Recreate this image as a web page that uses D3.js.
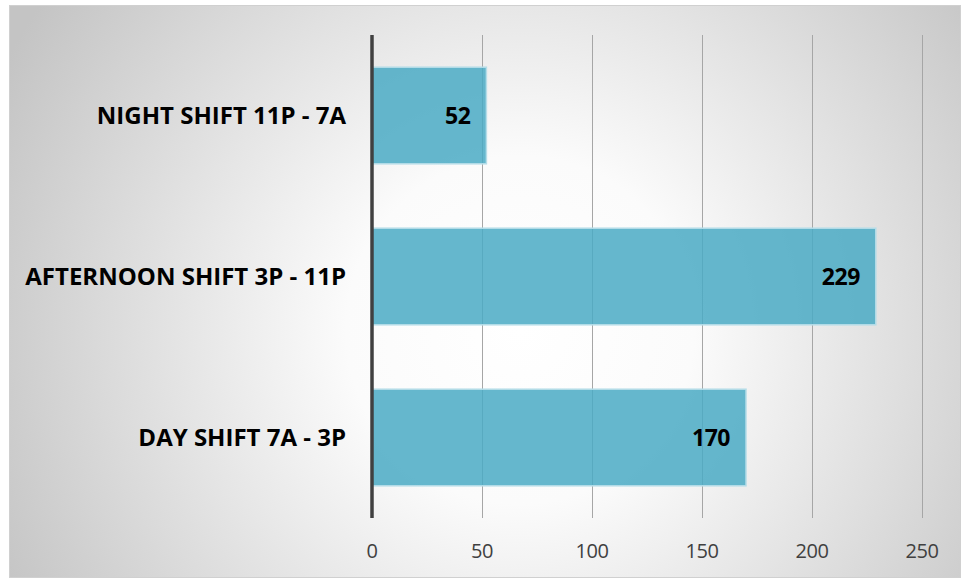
<!DOCTYPE html>
<html><head><meta charset="utf-8">
<script src="https://cdn.jsdelivr.net/npm/d3@7"></script>
<style>body{margin:0;background:#fff;}svg{display:block;}</style>
</head><body>
<svg id="c" width="961" height="579"></svg>
<script>
const categories = ["NIGHT SHIFT 11P - 7A", "AFTERNOON SHIFT 3P - 11P", "DAY SHIFT 7A - 3P"];
const values = [52, 229, 170];
const ticks = [0, 50, 100, 150, 200, 250];

const svg = d3.select("#c");
const defs = svg.append("defs");
const g = defs.append("radialGradient").attr("id","bg").attr("gradientUnits","userSpaceOnUse")
  .attr("cx",520).attr("cy",330).attr("r",580);
g.append("stop").attr("offset","0%").attr("stop-color","#ffffff");
g.append("stop").attr("offset","30%").attr("stop-color","#fbfbfb");
g.append("stop").attr("offset","100%").attr("stop-color","#c4c4c4");

svg.append("rect").attr("x",9.5).attr("y",5.5).attr("width",951).attr("height",572)
  .attr("fill","url(#bg)").attr("stroke","#d0d0d0").attr("stroke-width",1);

const x = d3.scaleLinear().domain([0,250]).range([372,922]);
const y = d3.scaleBand().domain(categories).range([35,518]).paddingInner(0.4).paddingOuter(0.2);

// gridlines
svg.append("g").selectAll("line").data(ticks.slice(1)).join("line")
  .attr("x1",d=>x(d)+0.5).attr("x2",d=>x(d)+0.5).attr("y1",35).attr("y2",518)
  .attr("stroke","#a6a6a6").attr("stroke-width",1);

// bars
svg.append("g").selectAll("rect").data(values).join("rect")
  .attr("x",x(0)).attr("y",(d,i)=>y(categories[i]))
  .attr("width",d=>x(d)-x(0)).attr("height",y.bandwidth())
  .attr("fill","#4aaac4").attr("fill-opacity",0.85)
  .attr("stroke","#b5dde8").attr("stroke-width",1.5);

// zero axis
svg.append("line").attr("x1",x(0)).attr("x2",x(0)).attr("y1",35).attr("y2",518)
  .attr("stroke","#404040").attr("stroke-width",3.5);

// value labels
svg.append("g").selectAll("text").data(values).join("text")
  .attr("x",d=>x(d)-16).attr("y",(d,i)=>y(categories[i])+y.bandwidth()/2)
  .attr("dy","0.36em").attr("text-anchor","end")
  .attr("font-family","Open Sans, sans-serif").attr("font-weight","bold").attr("font-size",23)
  .attr("letter-spacing",-0.5)
  .attr("fill","#000").text(d=>d);

// category labels
svg.append("g").selectAll("text").data(categories).join("text")
  .attr("x",346).attr("y",d=>y(d)+y.bandwidth()/2)
  .attr("dy","0.36em").attr("text-anchor","end")
  .attr("font-family","Open Sans, sans-serif").attr("font-weight","bold").attr("font-size",24)
  .attr("fill","#000").text(d=>d);

// tick labels
svg.append("g").selectAll("text").data(ticks).join("text")
  .attr("x",d=>x(d)).attr("y",551).attr("dy","0.36em").attr("text-anchor","middle")
  .attr("font-family","Open Sans, sans-serif").attr("font-size",20).attr("letter-spacing",-0.5)
  .attr("fill","#404040").text(d=>d);
</script>
</body></html>
